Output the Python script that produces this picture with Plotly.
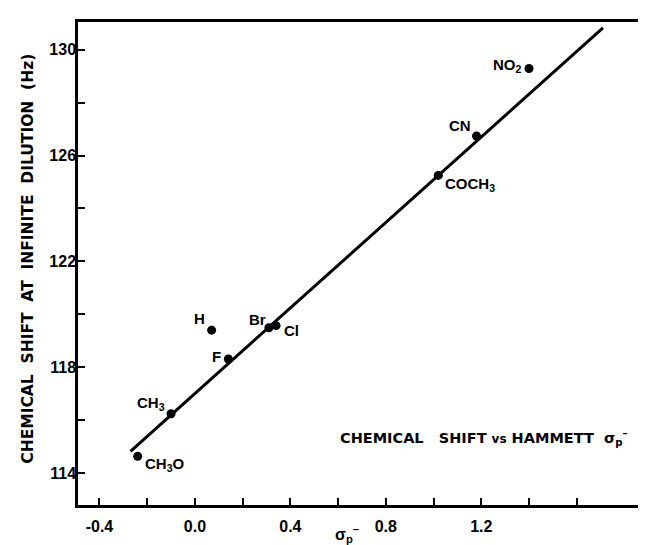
import plotly.graph_objects as go

# ---- data ----
substituents = ["NO<sub>2</sub>", "CN", "COCH<sub>3</sub>", "H", "F", "Br", "Cl", "CH<sub>3</sub>", "CH<sub>3</sub>O"]
sigma_p = [1.40, 1.18, 1.02, 0.07, 0.14, 0.31, 0.34, -0.10, -0.24]
shift_hz = [129.29, 126.74, 125.25, 119.40, 118.31, 119.49, 119.57, 116.24, 114.63]

fit_x = [-0.27, 1.71]
fit_y = [114.82, 130.83]

x_tickvals = [-0.4, -0.2, 0.0, 0.2, 0.4, 0.6, 0.8, 1.0, 1.2, 1.4, 1.6]
x_ticktext = ["-0.4", "", "0.0", "", "0.4", "", "0.8", "", "1.2", "", ""]
y_tickvals = [114, 116, 118, 120, 122, 124, 126, 128, 130]
y_ticktext = ["114", "", "118", "", "122", "", "126", "", "130"]

# label placement (pixel offsets relative to each point)
label_anchor = ["right", "right", "left", "right", "right", "right", "left", "right", "left"]
label_dx = [-5, -4, 5, -5, -5, -1, 6, -4, 5]
label_dy = [3, 11, -9, 12, 2, 8, -5, 10, -8]

FONT = "Liberation Sans"
WIDE = "DejaVu Sans"

fig = go.Figure()
fig.add_trace(go.Scatter(x=fit_x, y=fit_y, mode="lines",
                         line=dict(color="black", width=3), hoverinfo="skip"))
fig.add_trace(go.Scatter(x=sigma_p, y=shift_hz, mode="markers",
                         marker=dict(color="black", size=9)))

for s, xv, yv, anc, dx, dy in zip(substituents, sigma_p, shift_hz, label_anchor, label_dx, label_dy):
    fig.add_annotation(x=xv, y=yv, text=s, showarrow=False, xanchor=anc, yanchor="middle",
                       xshift=dx, yshift=dy,
                       font=dict(family=FONT, size=15, color="black", weight="bold"))

nb = "\u00a0"
fig.add_annotation(x=0.60, y=115.34, xanchor="left", yanchor="middle", showarrow=False,
                   text=(f"CHEMICAL{nb*3}SHIFT{nb}<span style='font-size:12px'>vs</span>{nb}"
                         f"HAMMETT{nb*2}σ<sub>p</sub><sup>–</sup>"),
                   font=dict(family=WIDE, size=14.5, color="black", weight="bold"))

gap = nb * 2
fig.add_annotation(xref="paper", yref="paper", x=0, y=0.51, xshift=-50, textangle=-90,
                   showarrow=False, xanchor="center", yanchor="middle",
                   text=f"CHEMICAL{gap}SHIFT{gap}AT{gap}INFINITE{gap}DILUTION{gap}(Hz)",
                   font=dict(family=WIDE, size=15.5, color="black", weight="bold"))

fig.add_annotation(xref="paper", yref="paper", x=0.47, y=0, yshift=-29, showarrow=False,
                   xanchor="center", yanchor="middle",
                   text="σ<sub>p</sub><sup>–</sup>",
                   font=dict(family=FONT, size=16, color="black", weight="bold"))

axis_common = dict(showgrid=False, zeroline=False, showline=True, mirror=True,
                   linecolor="black", linewidth=2.5, ticks="inside", ticklen=7,
                   tickwidth=2, tickcolor="black",
                   tickfont=dict(family=FONT, size=16, color="black", weight="bold"))

fig.update_xaxes(range=[-0.490, 1.907], tickvals=x_tickvals, ticktext=x_ticktext,
                 ticklabelstandoff=5, **axis_common)
fig.update_yaxes(range=[112.79, 131.05], tickvals=y_tickvals, ticktext=y_ticktext,
                 ticklabelstandoff=-4, **axis_common)

fig.update_layout(width=646, height=545, margin=dict(l=70, r=1, t=14, b=48),
                  plot_bgcolor="white", paper_bgcolor="white", showlegend=False)

fig.write_html("out.html")
